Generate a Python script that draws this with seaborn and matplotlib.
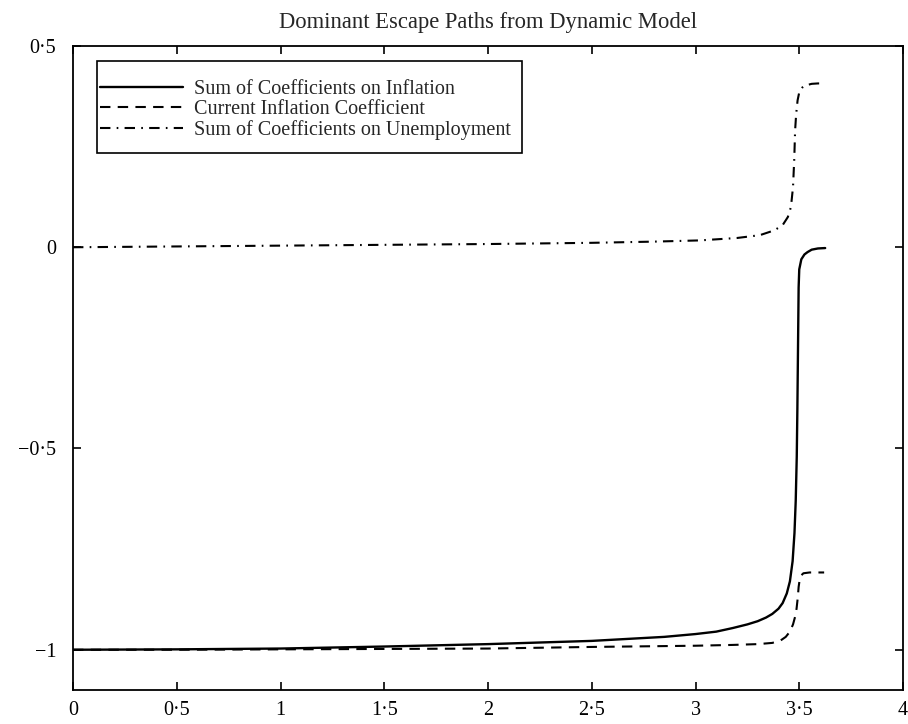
import matplotlib
matplotlib.use("Agg")
import matplotlib.pyplot as plt
import seaborn as sns
from matplotlib.ticker import FixedLocator, FixedFormatter
from matplotlib.patches import Rectangle

# ---- data ----
title = "Dominant Escape Paths from Dynamic Model"
series_names = ["Sum of Coefficients on Inflation",
                "Current Inflation Coefficient",
                "Sum of Coefficients on Unemployment"]

x_infl = [0.0, 0.5, 1.0, 1.5, 2.0, 2.5, 2.85, 3.0, 3.1, 3.18, 3.25, 3.3, 3.34, 3.37,
          3.40, 3.42, 3.44, 3.455, 3.468, 3.477, 3.483, 3.488, 3.491, 3.494, 3.497,
          3.50, 3.51, 3.525, 3.54, 3.56, 3.59, 3.625]
y_infl = [-1.0, -0.999, -0.997, -0.992, -0.986, -0.978, -0.968, -0.961, -0.955, -0.946,
          -0.937, -0.929, -0.920, -0.911, -0.898, -0.884, -0.860, -0.830, -0.78, -0.71,
          -0.63, -0.52, -0.40, -0.25, -0.10, -0.055, -0.03, -0.018, -0.012, -0.006,
          -0.003, -0.002]

x_curr = [0.0, 0.5, 1.0, 1.5, 2.0, 2.5, 3.0, 3.18, 3.3, 3.37, 3.41, 3.435, 3.455, 3.47,
          3.48, 3.487, 3.493, 3.497, 3.502, 3.51, 3.52, 3.55, 3.59, 3.62]
y_curr = [-1.0, -1.0, -0.999, -0.998, -0.997, -0.993, -0.99, -0.988, -0.986, -0.983,
          -0.977, -0.968, -0.955, -0.937, -0.918, -0.898, -0.870, -0.844, -0.826,
          -0.815, -0.810, -0.808, -0.808, -0.808]

x_unemp = [0.0, 0.5, 1.0, 1.5, 2.0, 2.5, 2.8, 3.02, 3.2, 3.31, 3.38, 3.42, 3.445, 3.46,
           3.47, 3.476, 3.48, 3.485, 3.492, 3.50, 3.515, 3.53, 3.56, 3.59, 3.62]
y_unemp = [0.0, 0.002, 0.004, 0.006, 0.008, 0.011, 0.014, 0.017, 0.023, 0.030, 0.042,
           0.055, 0.075, 0.10, 0.15, 0.22, 0.29, 0.33, 0.365, 0.385, 0.397, 0.402,
           0.406, 0.407, 0.407]

x_ticks = [0, 0.5, 1, 1.5, 2, 2.5, 3, 3.5, 4]
x_ticklabels = ["0", "0·5", "1", "1·5", "2", "2·5", "3", "3·5", "4"]
y_ticks = [-1, -0.5, 0, 0.5]
y_ticklabels = ["−1", "−0·5", "0", "0·5"]

# ---- style ----
sns.set_style("ticks")
plt.rcParams['font.family'] = ['Liberation Serif', 'DejaVu Serif']
plt.rcParams['axes.linewidth'] = 1.3

W, H = 908, 724
L, R, T, B = 73, 903, 46, 690
fig = plt.figure(figsize=(W / 100, H / 100), dpi=100)
ax = fig.add_axes([L / W, 1 - B / H, (R - L) / W, (B - T) / H])

sns.lineplot(x=x_infl, y=y_infl, ax=ax, color="black", linewidth=1.7,
             label=series_names[0], sort=False, estimator=None)
sns.lineplot(x=x_curr, y=y_curr, ax=ax, color="black", linewidth=1.5,
             label=series_names[1], sort=False, estimator=None)
sns.lineplot(x=x_unemp, y=y_unemp, ax=ax, color="black", linewidth=1.5,
             label=series_names[2], sort=False, estimator=None)

lines = ax.get_lines()
lines[1].set_dashes([5.0, 3.5])
lines[2].set_dashes([5.0, 3.0, 0.8, 3.0])

ax.set_xlim(0, 4)
ax.set_ylim(-1.1, 0.5)
ax.xaxis.set_major_locator(FixedLocator(x_ticks))
ax.xaxis.set_major_formatter(FixedFormatter(x_ticklabels))
ax.yaxis.set_major_locator(FixedLocator(y_ticks))
ax.yaxis.set_major_formatter(FixedFormatter(y_ticklabels))
ax.tick_params(direction="in", length=6, width=1.2, top=True, right=True,
               labelsize=14.5, colors="black")
ax.tick_params(axis="x", pad=8)
ax.tick_params(axis="y", pad=12)
for s in ax.spines.values():
    s.set_visible(True)
    s.set_color("black")

ax.set_title(title, fontsize=16.3, pad=13)
ax.set_xlabel("")
ax.set_ylabel("")

aw, ah = R - L, B - T
leg = ax.legend(loc="upper left", bbox_to_anchor=((100 - L) / aw, 1 - (80 - T) / ah),
                fontsize=14.5, handlelength=4.1, handletextpad=0.55,
                labelspacing=0.04, borderpad=0, frameon=False, borderaxespad=0)
ax.add_patch(Rectangle(((97 - L) / aw, (B - 153) / ah), (522 - 97) / aw, (153 - 61) / ah,
                       transform=ax.transAxes, fill=False, edgecolor="black",
                       linewidth=1.2, zorder=5))

fig.savefig("out.png", dpi=100)
